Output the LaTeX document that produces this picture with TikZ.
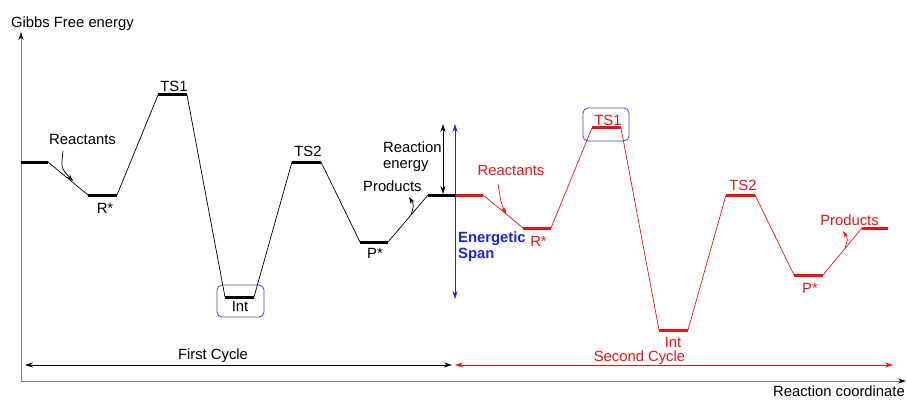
\documentclass[tikz,border=0pt]{standalone}
\usepackage{fontspec}
\setmainfont{Liberation Sans}
\usetikzlibrary{arrows.meta}
\definecolor{cred}{RGB}{232,20,20}
\definecolor{cblue}{RGB}{25,35,235}
\definecolor{boxblue}{RGB}{60,70,210}
\begin{document}
\begin{tikzpicture}[x=1pt,y=-1pt,
  lbl/.style={font=\fontsize{14.8}{16}\selectfont, inner sep=0pt},
  lvl/.style={line width=3pt},
  conn/.style={line width=0.7pt},
  tip/.style={-{Stealth[length=7pt,width=4.5pt]}},
  dtip/.style={{Stealth[length=8pt,width=5pt]}-{Stealth[length=8pt,width=5pt]}},
  hbox/.style={draw=boxblue, line width=0.8pt, rounded corners=5pt, inner sep=0pt},
]
\useasboundingbox (0,0) rectangle (907,401);

% axes
\coordinate (O) at (21,381);
\coordinate (yend) at (21,32);
\coordinate (xend) at (906,381);
\draw[gray, line width=0.8pt, -{Stealth[length=8pt,width=5pt,color=black]}] (O) -- (yend);
\draw[gray, line width=0.8pt, -{Stealth[length=8pt,width=5pt,color=black]}] (O) -- (xend);
\node[lbl, anchor=base west] (gfe) at (11,28) {Gibbs Free energy};
\node[lbl, anchor=base east] (rc) at (905,396) {Reaction coordinate};

% first cycle levels
\coordinate (bRa) at (21,162);  \coordinate (bRb) at (48,162);
\coordinate (bRsa) at (88,195); \coordinate (bRsb) at (117,195);
\coordinate (bT1a) at (158,95); \coordinate (bT1b) at (187,95);
\coordinate (bIa) at (225,297); \coordinate (bIb) at (254,297);
\coordinate (bT2a) at (292,162); \coordinate (bT2b) at (321,162);
\coordinate (bPsa) at (360,242); \coordinate (bPsb) at (388,242);
\coordinate (bPa) at (428,195); \coordinate (bPb) at (455,195);

% second cycle levels
\coordinate (rRa) at (455,195);  \coordinate (rRb) at (483,195);
\coordinate (rRsa) at (523,228); \coordinate (rRsb) at (551,228);
\coordinate (rT1a) at (592,128); \coordinate (rT1b) at (621,128);
\coordinate (rIa) at (659,330); \coordinate (rIb) at (688,330);
\coordinate (rT2a) at (726,195); \coordinate (rT2b) at (755,195);
\coordinate (rPsa) at (794,275); \coordinate (rPsb) at (823,275);
\coordinate (rPa) at (862,228); \coordinate (rPb) at (888,228);

% highlight boxes
\node[hbox, minimum width=47pt, minimum height=32pt] (intbox) at (240.5,301) {};
\node[hbox, minimum width=46pt, minimum height=33pt] (tsbox) at (606,124.5) {};

% first cycle
\draw[conn] (bRb) -- (bRsa) (bRsb) -- (bT1a) (bT1b) -- (bIa) (bIb) -- (bT2a)
            (bT2b) -- (bPsa) (bPsb) -- (bPa);
\draw[lvl] (bRa) -- (bRb) (bRsa) -- (bRsb) (bT1a) -- (bT1b) (bIa) -- (bIb)
           (bT2a) -- (bT2b) (bPsa) -- (bPsb) (bPa) -- (bPb);

% second cycle
\draw[conn, cred] (rRb) -- (rRsa) (rRsb) -- (rT1a) (rT1b) -- (rIa) (rIb) -- (rT2a)
            (rT2b) -- (rPsa) (rPsb) -- (rPa);
\draw[lvl, cred] (rRa) -- (rRb) (rRsa) -- (rRsb) (rT1a) -- (rT1b) (rIa) -- (rIb)
           (rT2a) -- (rT2b) (rPsa) -- (rPsb) (rPa) -- (rPb);

% first cycle labels
\node[lbl, anchor=base] (bReac) at (82.5,144) {Reactants};
\node[lbl, anchor=base] (bRs) at (105,213) {R*};
\node[lbl, anchor=base] (bT1) at (174,92) {TS1};
\node[lbl, anchor=base] (bInt) at (240,311) {Int};
\node[lbl, anchor=base] (bT2) at (308,157) {TS2};
\node[lbl, anchor=base] (bPs) at (375,258) {P*};
\node[lbl, anchor=base west] (bProd) at (363,191) {Products};
\node[lbl, anchor=base west] (reen1) at (383,153) {Reaction};
\node[lbl, anchor=base west] (reen2) at (383,168) {energy};

% second cycle labels
\node[lbl, anchor=base, text=cred] (rReac) at (511,175) {Reactants};
\node[lbl, anchor=base, text=cred] (rRs) at (538.5,246) {R*};
\node[lbl, anchor=base, text=cred] (rT1) at (608,125) {TS1};
\node[lbl, anchor=base, text=cred] (rInt) at (673,347) {Int};
\node[lbl, anchor=base, text=cred] (rT2) at (743,190) {TS2};
\node[lbl, anchor=base, text=cred] (rPs) at (810,293) {P*};
\node[lbl, anchor=base, text=cred] (rProd) at (849.5,225) {Products};

% curved pointer arrows
\coordinate (ba1) at (63,151); \coordinate (ba2) at (73,181);
\draw[conn, tip] (ba1) .. controls (61,168) .. (ba2);
\coordinate (bp1) at (411,215); \coordinate (bp2) at (409,197);
\draw[conn, tip] (bp1) .. controls (414,205) .. (bp2);
\coordinate (ra1) at (498,184); \coordinate (ra2) at (506,214);
\draw[conn, cred, tip] (ra1) .. controls (501,203) .. (ra2);
\coordinate (rp1) at (845,248); \coordinate (rp2) at (843,231);
\draw[conn, cred, tip] (rp1) .. controls (848,239) .. (rp2);

% reaction energy
\coordinate (re1) at (443,124); \coordinate (re2) at (443,194);
\draw[conn, dtip] (re1) -- (re2);

% energetic span
\coordinate (es1) at (455,124); \coordinate (es2) at (455,299);
\draw[conn, cblue, dtip] (es1) -- (es2);
\node[lbl, anchor=base west, text=cblue, font=\fontsize{14.8}{16}\selectfont\bfseries] (es3) at (458,242) {Energetic};
\node[lbl, anchor=base west, text=cblue, font=\fontsize{14.8}{16}\selectfont\bfseries] (es4) at (458,258) {Span};

% cycles
\coordinate (c1a) at (25,365); \coordinate (c1b) at (452,365);
\coordinate (c2a) at (455,365); \coordinate (c2b) at (893,365);
\draw[conn, dtip] (c1a) -- (c1b);
\draw[conn, cred, dtip] (c2a) -- (c2b);
\node[lbl, anchor=base] (fc) at (213,359) {First Cycle};
\node[lbl, anchor=base, text=cred] (sc) at (639.5,361.5) {Second Cycle};
\end{tikzpicture}
\end{document}
